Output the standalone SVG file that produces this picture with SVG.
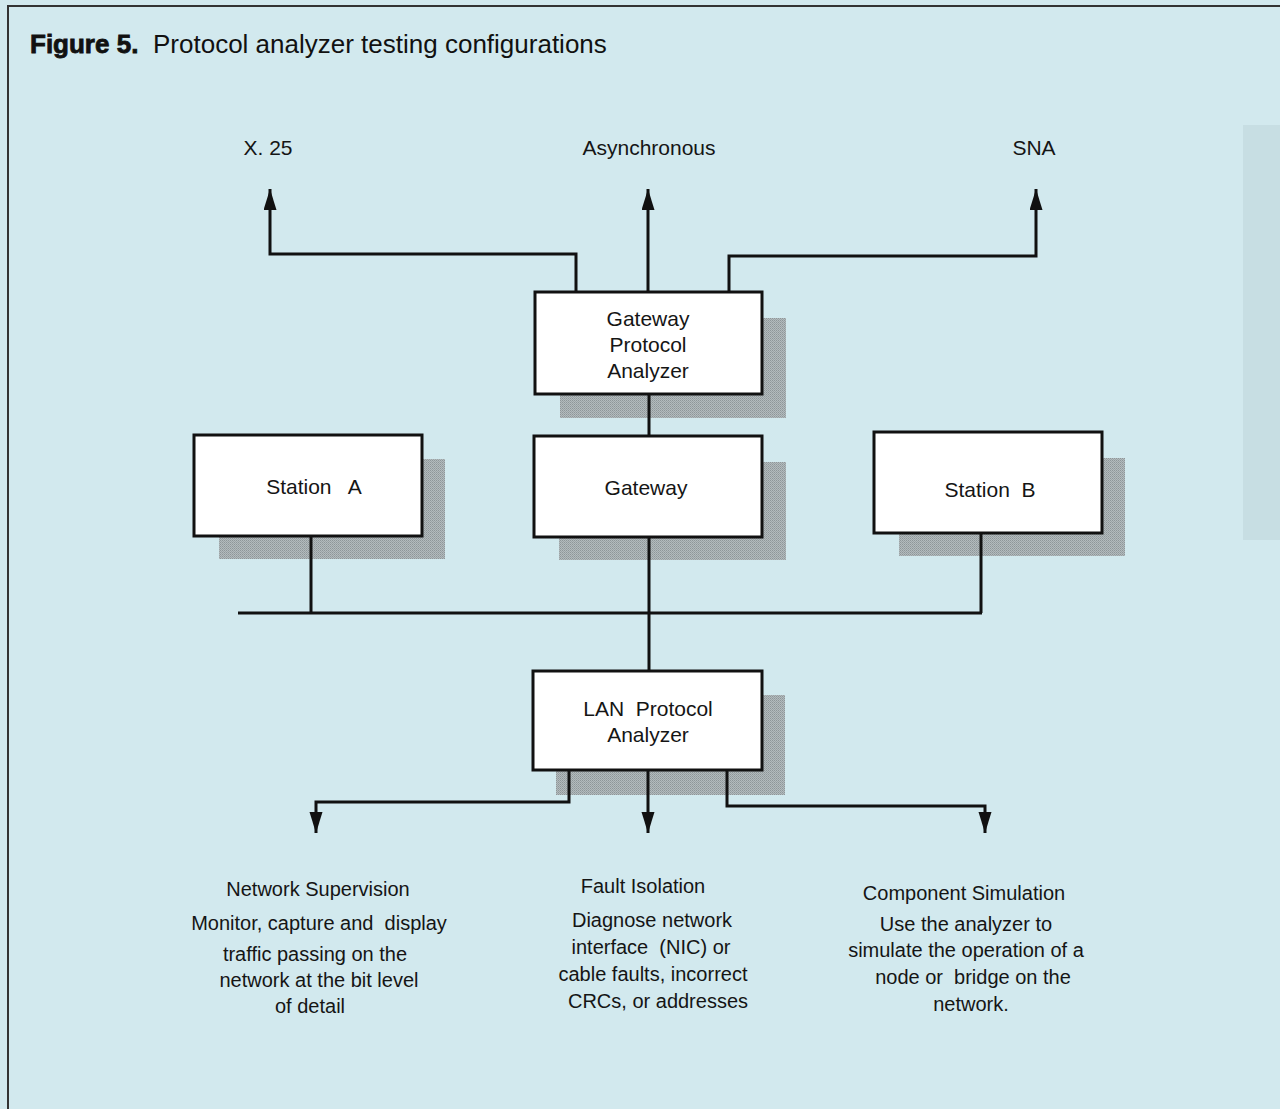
<svg xmlns="http://www.w3.org/2000/svg" width="1280" height="1109" viewBox="0 0 1280 1109">
  <defs>
    <pattern id="halftone" width="2" height="2" patternUnits="userSpaceOnUse">
      <rect width="2" height="2" fill="#b3bbbd"/>
      <rect width="1" height="1" fill="#8e9699"/>
      <rect x="1" y="1" width="1" height="1" fill="#9ba3a6"/>
    </pattern>
    <marker id="arrow" markerUnits="userSpaceOnUse" markerWidth="22" markerHeight="14" refX="21" refY="6.5" orient="auto">
      <path d="M0,0 L21,6.5 L0,13 Z" fill="#111"/>
    </marker>
    <style>
      .shadow { fill: url(#halftone); }
      .box { fill: #ffffff; stroke: #111; stroke-width: 3; }
      .label { font-family: "Liberation Sans", Arial, sans-serif; font-size: 21px; fill: #151515; text-anchor: middle; }
      .note { font-family: "Liberation Sans", Arial, sans-serif; font-size: 20px; fill: #151515; text-anchor: middle; }
      .wire { fill: none; stroke: #111; stroke-width: 3; stroke-linejoin: miter; }
      .wire-arrow { fill: none; stroke: #111; stroke-width: 3; stroke-linejoin: miter; marker-end: url(#arrow); }
    </style>
  </defs>

  <!-- page background and frame -->
  <rect x="0" y="0" width="1280" height="1109" fill="#d2e9ee"/>
  <rect x="1243" y="125" width="37" height="415" fill="#c7dee3"/>
  <path d="M8,1109 L8,6 L1280,6" fill="none" stroke="#333" stroke-width="2"/>

  <!-- caption -->
  <text x="30" y="53" font-family="'Liberation Sans', Arial, sans-serif" font-size="26" fill="#111"><tspan font-weight="bold" stroke="#111" stroke-width="0.8">Figure 5.</tspan><tspan x="153">Protocol analyzer testing configurations</tspan></text>

  <!-- outbound link labels -->
  <g id="label-x25"><text class="label" x="268" y="155">X. 25</text></g>
  <g id="label-async"><text class="label" x="649" y="155">Asynchronous</text></g>
  <g id="label-sna"><text class="label" x="1034" y="155">SNA</text></g>

  <!-- nodes -->
  <g id="gateway-protocol-analyzer">
    <rect class="shadow" x="560" y="318" width="226" height="100"/>
    <rect class="box" x="535" y="292" width="227" height="102"/>
    <text class="label" x="648" y="326">Gateway</text>
    <text class="label" x="648" y="352">Protocol</text>
    <text class="label" x="648" y="378">Analyzer</text>
  </g>

  <g id="station-a">
    <rect class="shadow" x="219" y="459" width="226" height="100"/>
    <rect class="box" x="194" y="435" width="228" height="101"/>
    <text class="label" x="314" y="494" xml:space="preserve">Station   A</text>
  </g>

  <g id="gateway">
    <rect class="shadow" x="559" y="462" width="227" height="98"/>
    <rect class="box" x="534" y="436" width="228" height="101"/>
    <text class="label" x="646" y="495">Gateway</text>
  </g>

  <g id="station-b">
    <rect class="shadow" x="899" y="458" width="226" height="98"/>
    <rect class="box" x="874" y="432" width="228" height="101"/>
    <text class="label" x="990" y="497" xml:space="preserve">Station  B</text>
  </g>

  <g id="lan-protocol-analyzer">
    <rect class="shadow" x="556" y="695" width="229" height="100"/>
    <rect class="box" x="533" y="671" width="229" height="99"/>
    <text class="label" x="648" y="716" xml:space="preserve">LAN  Protocol</text>
    <text class="label" x="648" y="742">Analyzer</text>
  </g>

  <!-- connectors -->
  <g id="connectors">
    <polyline class="wire-arrow" points="576,292 576,254 270,254 270,189"/>
    <polyline class="wire-arrow" points="648,292 648,189"/>
    <polyline class="wire-arrow" points="729,292 729,256 1036,256 1036,189"/>
    <line class="wire" x1="649" y1="394" x2="649" y2="436"/>
    <line class="wire" x1="649" y1="537" x2="649" y2="671"/>
    <line class="wire" x1="311" y1="536" x2="311" y2="613"/>
    <line class="wire" x1="981" y1="533" x2="981" y2="613"/>
    <line class="wire" x1="238" y1="613" x2="982" y2="613"/>
    <polyline class="wire-arrow" points="569,770 569,802 316,802 316,833"/>
    <polyline class="wire-arrow" points="648,770 648,833"/>
    <polyline class="wire-arrow" points="727,770 727,806 985,806 985,833"/>
  </g>

  <!-- application notes -->
  <g id="note-network-supervision">
    <text class="note" x="318" y="896">Network Supervision</text>
    <text class="note" x="319" y="930" xml:space="preserve">Monitor, capture and  display</text>
    <text class="note" x="315" y="961">traffic passing on the</text>
    <text class="note" x="319" y="987">network at the bit level</text>
    <text class="note" x="310" y="1013">of detail</text>
  </g>
  <g id="note-fault-isolation">
    <text class="note" x="643" y="893">Fault Isolation</text>
    <text class="note" x="652" y="927">Diagnose network</text>
    <text class="note" x="651" y="954" xml:space="preserve">interface  (NIC) or</text>
    <text class="note" x="653" y="981">cable faults, incorrect</text>
    <text class="note" x="658" y="1008">CRCs, or addresses</text>
  </g>
  <g id="note-component-simulation">
    <text class="note" x="964" y="900">Component Simulation</text>
    <text class="note" x="966" y="931">Use the analyzer to</text>
    <text class="note" x="966" y="957">simulate the operation of a</text>
    <text class="note" x="973" y="984" xml:space="preserve">node or  bridge on the</text>
    <text class="note" x="971" y="1011">network.</text>
  </g>
</svg>
